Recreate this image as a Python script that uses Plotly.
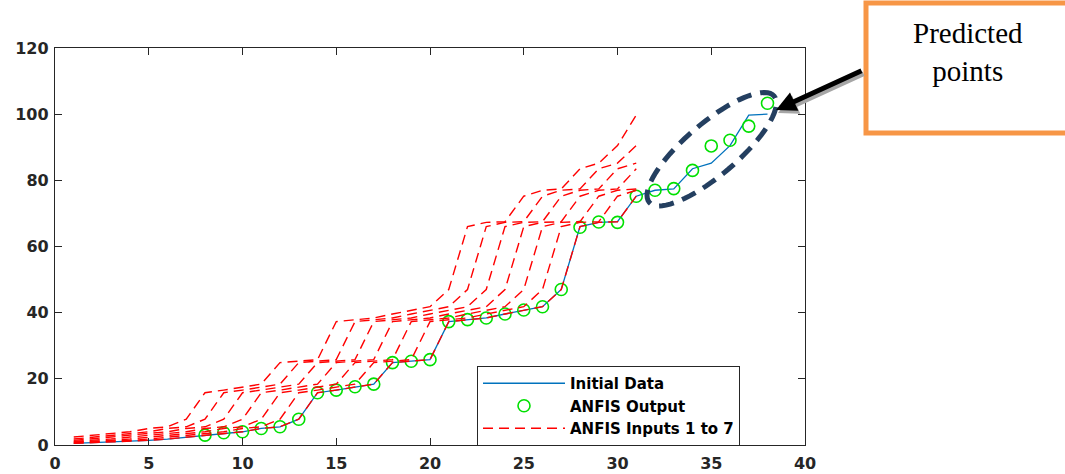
import math
import plotly.graph_objects as go

# ---------------- data ----------------
x_initial = list(range(1, 39))
initial_data = [0.5, 0.7, 0.9, 1.1, 1.4, 1.8, 2.4, 3.0, 3.6, 4.0,
                5.0, 5.5, 7.8, 15.8, 16.6, 17.6, 18.4, 24.9, 25.3, 25.8,
                37.3, 37.9, 38.4, 39.6, 40.8, 41.8, 47.0, 66.0, 67.3, 67.5,
                75.2, 77.0, 77.4, 83.5, 85.2, 90.5, 99.7, 100.0]

x_output = list(range(8, 39))
anfis_output = [3.0, 3.7, 4.0, 5.0, 5.5, 7.8, 15.8, 16.6, 17.6, 18.4,
                24.9, 25.3, 25.8, 37.3, 37.9, 38.4, 39.6, 40.8, 41.8, 47.0,
                65.8, 67.4, 67.3, 75.2, 77.0, 77.5, 83.0, 90.4, 92.1, 96.4, 103.3]

# ANFIS inputs 1..7 are the initial data lagged by 0..6 samples
x_inputs = list(range(1, 32))
input_lags = [0, 1, 2, 3, 4, 5, 6]

x_ticks = [0, 5, 10, 15, 20, 25, 30, 35, 40]
y_ticks = [0, 20, 40, 60, 80, 100, 120]

# ---------------- layout geometry (pixels) ----------------
W, H = 1065, 474
L, R, T, B = 55, 805, 48, 445   # plot area in px


def px2paper(px, py):
    return (px - L) / (R - L), (B - py) / (B - T)


fig = go.Figure()

fig.add_trace(go.Scatter(
    x=x_initial, y=initial_data, mode="lines", name="Initial Data",
    line=dict(color="#0072BD", width=1.3),
))
fig.add_trace(go.Scatter(
    x=x_output, y=anfis_output, mode="markers", name="ANFIS Output",
    marker=dict(symbol="circle-open", size=12, color="#00E000",
                line=dict(width=1.6, color="#00E000")),
))
for i, lag in enumerate(input_lags):
    fig.add_trace(go.Scatter(
        x=x_inputs, y=initial_data[lag:lag + len(x_inputs)], mode="lines",
        name="ANFIS Inputs 1 to 7", legendgroup="inputs",
        showlegend=(i == 0),
        line=dict(color="#FF0000", width=1.4, dash="10px,6px"),
    ))

axis_common = dict(
    showgrid=False, zeroline=False, showline=True, linecolor="#262626",
    linewidth=1.3, mirror="ticks", ticks="inside", ticklen=7,
    tickcolor="#262626", tickwidth=1.2, automargin=False,
    tickfont=dict(family="DejaVu Sans", size=16, color="#262626", weight="bold"),
)
fig.update_xaxes(range=[0, 40], tickvals=x_ticks, ticktext=[str(v) for v in x_ticks],
                 ticklabelstandoff=4, **axis_common)
fig.update_yaxes(range=[0, 120], tickvals=y_ticks, ticktext=[str(v) for v in y_ticks],
                 ticklabelstandoff=2, **axis_common)

# ---------------- ellipse around predicted points ----------------
cx, cy, a, b, th = 711.7, 149.2, 82.0, 26.0, math.radians(40.4)
pts = []
for k in range(73):
    t = 2 * math.pi * k / 72
    px = cx + a * math.cos(t) * math.cos(th) - b * math.sin(t) * math.sin(th)
    py = cy - (a * math.cos(t) * math.sin(th) + b * math.sin(t) * math.cos(th))
    pts.append(px2paper(px, py))
path = "M " + " L ".join(f"{x:.5f},{y:.5f}" for x, y in pts) + " Z"

shapes = [
    dict(type="path", xref="paper", yref="paper", path=path,
         line=dict(color="#243F60", width=5, dash="15px,9px")),
]
bx0, by0 = px2paper(866, 133)
bx1, by1 = px2paper(1075, 3)
shapes.append(dict(type="rect", xref="paper", yref="paper",
                   x0=bx0, y0=by0, x1=bx1, y1=by1,
                   line=dict(color="#F79646", width=5), fillcolor="white"))

annotations = []
# arrow shadow + arrow
tipx, tipy = px2paper(776, 110)
shx, shy = px2paper(778, 113)
annotations.append(dict(xref="paper", yref="paper", x=shx, y=shy, ax=87, ay=-40,
                        text="", showarrow=True, arrowhead=2, arrowsize=0.8,
                        arrowwidth=5, arrowcolor="#A6A6A6"))
annotations.append(dict(xref="paper", yref="paper", x=tipx, y=tipy, ax=87, ay=-40,
                        text="", showarrow=True, arrowhead=2, arrowsize=0.8,
                        arrowwidth=5, arrowcolor="#000000"))
tx, ty = px2paper(968, 52)
annotations.append(dict(xref="paper", yref="paper", x=tx, y=ty,
                        text="Predicted<br>points", showarrow=False,
                        xanchor="center", yanchor="middle", align="center",
                        font=dict(family="Liberation Serif", size=29, color="black")))

lx, ly = px2paper(477, 366)
fig.update_layout(
    width=W, height=H,
    margin=dict(l=L, r=W - R, t=T, b=H - B, pad=0, autoexpand=False),
    paper_bgcolor="white", plot_bgcolor="white",
    shapes=shapes, annotations=annotations,
    legend=dict(x=lx, y=ly, xanchor="left", yanchor="top",
                bgcolor="white", bordercolor="#262626", borderwidth=1,
                itemwidth=82, tracegroupgap=0,
                font=dict(family="DejaVu Sans", size=15, color="black", weight="bold")),
)

fig.write_html("out.html",
               config={"displayModeBar": False},
               post_script="document.body.style.margin='0px';"
                           "document.body.style.overflow='hidden';")
